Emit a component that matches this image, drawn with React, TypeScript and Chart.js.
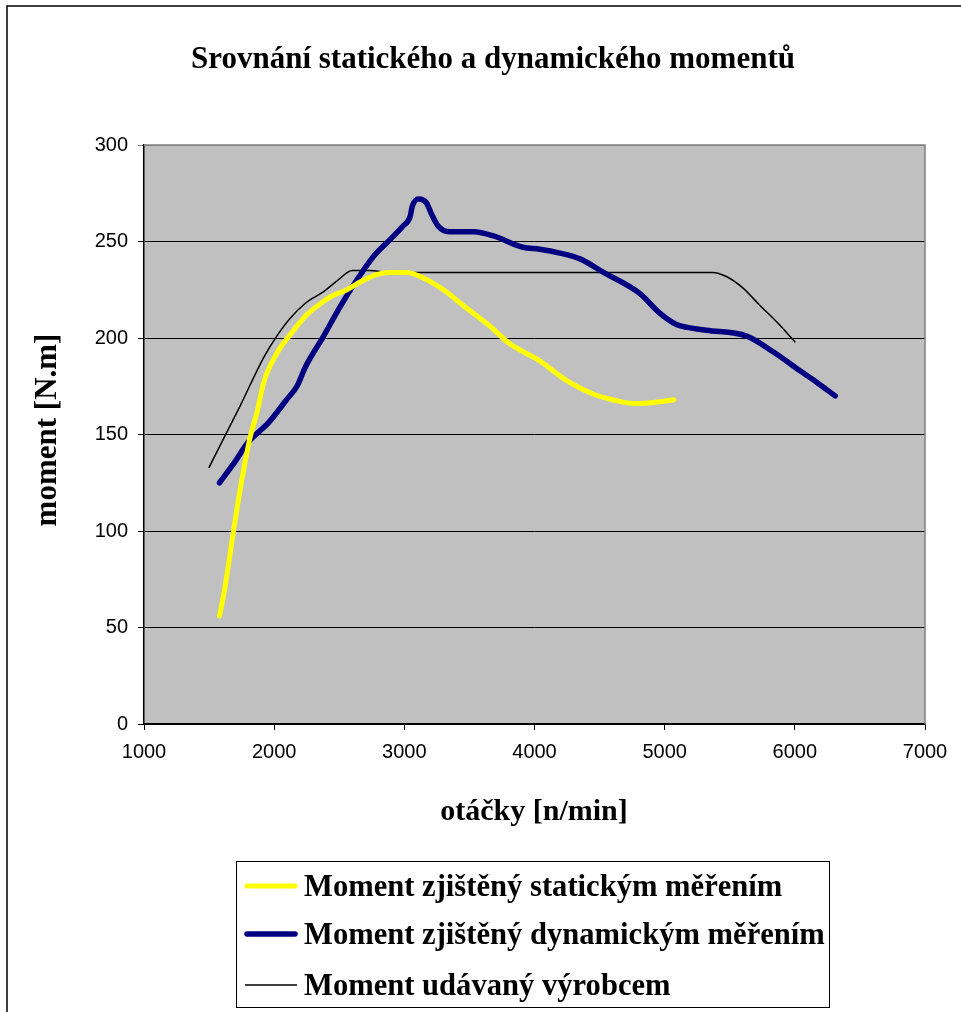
import React, { useEffect, useRef } from "react";
import { Chart, registerables } from "chart.js";

Chart.register(...registerables);

const W = 961;
const H = 1012;

const chartTitle = "Srovnání statického a dynamického momentů";
const xTitle = "otáčky [n/min]";
const yTitle = "moment [N.m]";
const seriesLabels = [
  "Moment zjištěný statickým měřením",
  "Moment zjištěný dynamickým měřením",
  "Moment udávaný výrobcem",
];
const seriesColors = ["#FFFF00", "#000080", "#000000"];
const seriesWidths = [5, 5.5, 1.5];

const staticRpm = [1580, 1620, 1690, 1740, 1810, 1870, 1920, 2020, 2150, 2250, 2380, 2450, 2560, 2660, 2790, 2890, 3020, 3150, 3300, 3450, 3660, 3810, 4020, 4270, 4450, 4600, 4780, 4960, 5070];
const staticTorque = [56, 70, 101, 122, 147, 162, 177, 192, 204, 212, 219, 222, 225, 229, 233, 234, 234, 231, 225, 217, 206, 197, 189, 177, 171, 168, 166, 167, 168];

const dynamicRpm = [1580, 1690, 1800, 1955, 2095, 2175, 2240, 2380, 2505, 2635, 2760, 2890, 2990, 3045, 3060, 3110, 3170, 3210, 3260, 3350, 3530, 3680, 3910, 4040, 4195, 4350, 4530, 4810, 4960, 5090, 5220, 5320, 5630, 5830, 6040, 6170, 6310];
const dynamicTorque = [125, 135, 146, 156, 168, 175, 185, 201, 216, 230, 242, 251, 258, 263, 268, 272, 270, 264, 258, 255, 255, 253, 247, 246, 244, 241, 234, 223, 213, 207, 205, 204, 201, 193, 183, 177, 170];

const makerRpm = [1500, 1620, 1740, 1920, 2020, 2120, 2240, 2380, 2490, 2600, 2730, 2890, 3000, 4000, 5000, 5370, 5470, 5600, 5730, 5880, 6000];
const makerTorque = [133, 149, 165, 190, 201, 210, 218, 224, 230, 235, 235, 234, 234, 234, 234, 234, 232, 226, 217, 207, 198];

const xMin = 1000;
const xMax = 7000;
const xStep = 1000;
const yMin = 0;
const yMax = 300;
const yStep = 50;

const zip = (xs: number[], ys: number[]) => xs.map((x, i) => ({ x, y: ys[i] }));

const SERIF = '"Liberation Serif", "Times New Roman", serif';
const SANS = '"Liberation Sans", Arial, sans-serif';

const decorPlugin = {
  id: "decor",
  beforeDraw(chart: any) {
    const { ctx, chartArea: a } = chart;
    ctx.save();
    ctx.fillStyle = "#FFFFFF";
    ctx.fillRect(0, 0, chart.width, chart.height);
    ctx.strokeStyle = "#000";
    ctx.lineWidth = 1.5;
    ctx.strokeRect(7, 6, 1100, 1100);
    ctx.fillStyle = "#C0C0C0";
    ctx.fillRect(a.left, a.top, a.right - a.left, a.bottom - a.top);
    ctx.restore();
  },
  afterDraw(chart: any) {
    const { ctx, chartArea: a } = chart;
    ctx.save();
    ctx.strokeStyle = "#808080";
    ctx.lineWidth = 1.5;
    ctx.beginPath();
    ctx.moveTo(a.left, a.top);
    ctx.lineTo(a.right, a.top);
    ctx.lineTo(a.right, a.bottom);
    ctx.stroke();

    ctx.fillStyle = "#000";
    ctx.font = `bold 31px ${SERIF}`;
    ctx.textAlign = "center";
    ctx.textBaseline = "alphabetic";
    ctx.fillText(chartTitle, 493, 68);

    ctx.font = `bold 30px ${SERIF}`;
    ctx.fillText(xTitle, 534, 820);

    ctx.save();
    ctx.font = `bold 31px ${SERIF}`;
    ctx.translate(56, 430);
    ctx.rotate(-Math.PI / 2);
    ctx.fillText(yTitle, 0, 0);
    ctx.restore();

    ctx.strokeStyle = "#000";
    ctx.lineWidth = 1;
    ctx.strokeRect(236.5, 861.5, 593, 146);
    const rows = [886, 934, 985];
    ctx.textAlign = "left";
    chart.data.datasets.forEach((ds: any, i: number) => {
      const y = rows[i];
      ctx.strokeStyle = ds.borderColor;
      ctx.lineWidth = ds.borderWidth;
      ctx.lineCap = i < 2 ? "round" : "butt";
      ctx.beginPath();
      ctx.moveTo(i < 2 ? 247 : 245, y);
      ctx.lineTo(i < 2 ? 295 : 297, y);
      ctx.stroke();
      ctx.fillStyle = "#000";
      ctx.font = `bold 30.6px ${SERIF}`;
      ctx.fillText(ds.label, 304, y + 10);
    });
    ctx.restore();
  },
};

export default function App() {
  const ref = useRef<HTMLCanvasElement>(null);
  useEffect(() => {
    const datasets = [
      zip(staticRpm, staticTorque),
      zip(dynamicRpm, dynamicTorque),
      zip(makerRpm, makerTorque),
    ].map((data, i) => ({
      label: seriesLabels[i],
      data,
      borderColor: seriesColors[i],
      backgroundColor: seriesColors[i],
      borderWidth: seriesWidths[i],
      pointRadius: 0,
      fill: false,
      cubicInterpolationMode: "monotone" as const,
      borderCapStyle: "round" as const,
      borderJoinStyle: "round" as const,
    }));
    const chart = new Chart(ref.current!, {
      type: "line",
      data: { datasets },
      options: {
        animation: false,
        responsive: false,
        devicePixelRatio: 1,
        layout: { padding: { left: 0, top: 145, right: 36, bottom: 0 } },
        plugins: { legend: { display: false }, tooltip: { enabled: false }, title: { display: false } },
        scales: {
          x: {
            type: "linear",
            min: xMin,
            max: xMax,
            afterFit: (s: any) => { s.height = 288; },
            ticks: {
              stepSize: xStep,
              color: "#000",
              font: { family: SANS, size: 20 },
              padding: 10,
              maxRotation: 0,
              autoSkip: false,
              callback: (v: any) => String(v),
            },
            grid: { drawOnChartArea: false, drawTicks: true, tickLength: 6, color: "#000", lineWidth: 1 },
            border: { color: "#000", width: 1.5 },
          },
          y: {
            type: "linear",
            min: yMin,
            max: yMax,
            afterFit: (s: any) => { s.width = 144; },
            ticks: { stepSize: yStep, color: "#000", font: { family: SANS, size: 20 }, padding: 10, callback: (v: any) => String(v) },
            grid: {
              drawTicks: true,
              tickLength: 6,
              color: (c: any) => (c.tick && c.tick.value === yMax ? "#808080" : "#000"),
              lineWidth: 1,
            },
            border: { color: "#000", width: 1.5 },
          },
        },
      },
      plugins: [decorPlugin],
    });
    return () => chart.destroy();
  }, []);
  return (
    <div style={{ position: "absolute", left: 0, top: 0, width: W, height: H }}>
      <canvas ref={ref} width={W} height={H} style={{ width: W, height: H, display: "block" }} />
    </div>
  );
}
